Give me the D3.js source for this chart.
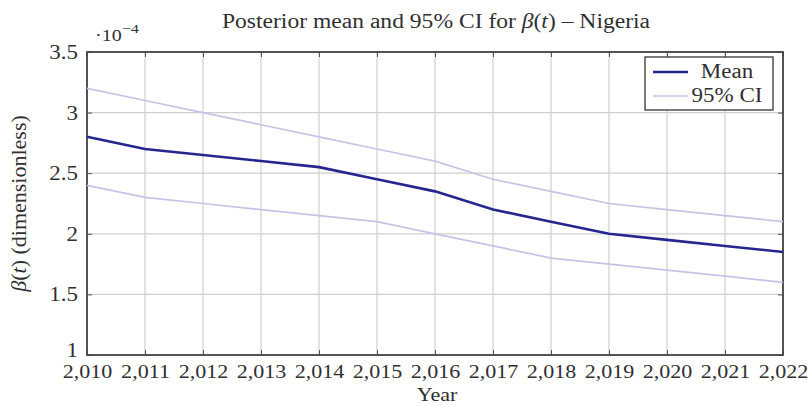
<!DOCTYPE html>
<html>
<head>
<meta charset="utf-8">
<script src="https://cdn.jsdelivr.net/npm/d3@7"></script>
<style>
  html, body { margin: 0; padding: 0; background: #fff; }
  svg text { font-family: "Liberation Serif", "Times New Roman", serif; fill: #303030; }
</style>
</head>
<body>
<svg id="chart" width="812" height="407"></svg>
<script>
// Posterior estimates of the transmission rate beta(t), in units of 1e-4
const years = [2010, 2011, 2012, 2013, 2014, 2015, 2016, 2017, 2018, 2019, 2020, 2021, 2022];
const meanValues  = [2.8, 2.7, 2.65, 2.6, 2.55, 2.45, 2.35, 2.2, 2.1, 2.0, 1.95, 1.9, 1.85];
const upperValues = [3.2, 3.1, 3.0, 2.9, 2.8, 2.7, 2.6, 2.45, 2.35, 2.25, 2.2, 2.15, 2.1];
const lowerValues = [2.4, 2.3, 2.25, 2.2, 2.15, 2.1, 2.0, 1.9, 1.8, 1.75, 1.7, 1.65, 1.6];
const yTicks = [1, 1.5, 2, 2.5, 3, 3.5];
const legendLabels = ["Mean", "95% CI"];

const meanColor = "#26268f";
const ciColor = "#c4c4e6";
const FONT = "Liberation Serif";

const svg = d3.select("#chart");
const margin = { left: 87, right: 29, top: 52, bottom: 52 };
const W = 812, H = 407;

const x = d3.scaleLinear().domain([2010, 2022]).range([margin.left, W - margin.right]);
const y = d3.scaleLinear().domain([1, 3.5]).range([H - margin.bottom, margin.top]);

// widen a text element horizontally (the typeface is set wider than Times)
function widen(sel, k) {
  sel.each(function () {
    const w = this.getComputedTextLength();
    this.setAttribute("textLength", (w * k).toFixed(1));
    this.setAttribute("lengthAdjust", "spacingAndGlyphs");
  });
}

// grid
const grid = svg.append("g");
grid.selectAll("line.vx").data(years).join("line")
  .attr("x1", d => x(d)).attr("x2", d => x(d))
  .attr("y1", y(1)).attr("y2", y(3.5))
  .attr("stroke", "#cfcfcf").attr("stroke-width", 1.2);
grid.selectAll("line.hy").data(yTicks).join("line")
  .attr("y1", d => y(d)).attr("y2", d => y(d))
  .attr("x1", x(2010)).attr("x2", x(2022))
  .attr("stroke", "#cfcfcf").attr("stroke-width", 1.2);

// axes with inward ticks on all four sides
const xAxis = d3.axisBottom(x).tickValues(years).tickFormat(d3.format(",")).tickSize(-5).tickPadding(9);
const xg = svg.append("g").attr("transform", `translate(0,${y(1)})`).call(xAxis);
const yAxis = d3.axisLeft(y).tickValues(yTicks).tickFormat(d3.format("")).tickSize(-5).tickPadding(9);
const yg = svg.append("g").attr("transform", `translate(${x(2010)},0)`).call(yAxis);
svg.append("g").attr("transform", `translate(0,${y(3.5)})`)
  .call(d3.axisTop(x).tickValues(years).tickFormat("").tickSize(-5));
svg.append("g").attr("transform", `translate(${x(2022)},0)`)
  .call(d3.axisRight(y).tickValues(yTicks).tickFormat("").tickSize(-5));
svg.selectAll(".domain").attr("stroke", "none");
svg.selectAll(".tick line").attr("stroke", "#555");
xg.selectAll("text").attr("font-size", 19.5).style("font-family", FONT).attr("fill", "#303030");
yg.selectAll("text").attr("font-size", 20).style("font-family", FONT).attr("fill", "#303030")
  .attr("dy", d => d === 1 ? "0.05em" : "0.32em");
widen(xg.selectAll("text"), 1.13);
widen(yg.selectAll("text"), 1.15);

// frame
svg.append("rect")
  .attr("x", x(2010)).attr("y", y(3.5))
  .attr("width", x(2022) - x(2010)).attr("height", y(1) - y(3.5))
  .attr("fill", "none").attr("stroke", "#444").attr("stroke-width", 1.8);

// lines
const line = d3.line().x((d, i) => x(years[i])).y(d => y(d));
svg.append("path").datum(upperValues).attr("d", line)
  .attr("fill", "none").attr("stroke", ciColor).attr("stroke-width", 1.7);
svg.append("path").datum(lowerValues).attr("d", line)
  .attr("fill", "none").attr("stroke", ciColor).attr("stroke-width", 1.7);
svg.append("path").datum(meanValues).attr("d", line)
  .attr("fill", "none").attr("stroke", meanColor).attr("stroke-width", 2.6);

// scale multiplier
const mult = svg.append("text").attr("x", 95).attr("y", 41).attr("font-size", 16);
mult.append("tspan").text("·10");
mult.append("tspan").attr("dy", -8).attr("font-size", 13).text("−4");
widen(mult, 1.25);

// title
const title = svg.append("text").attr("x", 436).attr("y", 28).attr("text-anchor", "middle").attr("font-size", 20.5);
title.append("tspan").text("Posterior mean and 95% CI for ");
title.append("tspan").attr("font-style", "italic").text("β");
title.append("tspan").text("(");
title.append("tspan").attr("font-style", "italic").text("t");
title.append("tspan").text(") – Nigeria");
widen(title, 1.15);

// axis titles
const xt = svg.append("text").attr("x", 437).attr("y", 401).attr("text-anchor", "middle").attr("font-size", 19).text("Year");
widen(xt, 1.16);
const yl = svg.append("text").attr("transform", `translate(26,${(y(1) + y(3.5)) / 2}) rotate(-90)`)
  .attr("text-anchor", "middle").attr("font-size", 20);
yl.append("tspan").attr("font-style", "italic").text("β");
yl.append("tspan").text("(");
yl.append("tspan").attr("font-style", "italic").text("t");
yl.append("tspan").text(") (dimensionless)");
widen(yl, 1.1);

// legend
const lg = svg.append("g");
lg.append("rect").attr("x", 645).attr("y", 57).attr("width", 128).attr("height", 53)
  .attr("fill", "#fff").attr("stroke", "#444").attr("stroke-width", 1.4);
const items = [{ label: legendLabels[0], color: meanColor, w: 2.6 }, { label: legendLabels[1], color: ciColor, w: 1.7 }];
items.forEach((it, i) => {
  const cy = 72 + i * 24;
  lg.append("line").attr("x1", 653).attr("x2", 688).attr("y1", cy).attr("y2", cy)
    .attr("stroke", it.color).attr("stroke-width", it.w);
  const t = lg.append("text").attr("x", 727).attr("y", cy + 6).attr("text-anchor", "middle").attr("font-size", 20).text(it.label);
  widen(t, 1.15);
});
</script>
</body>
</html>
